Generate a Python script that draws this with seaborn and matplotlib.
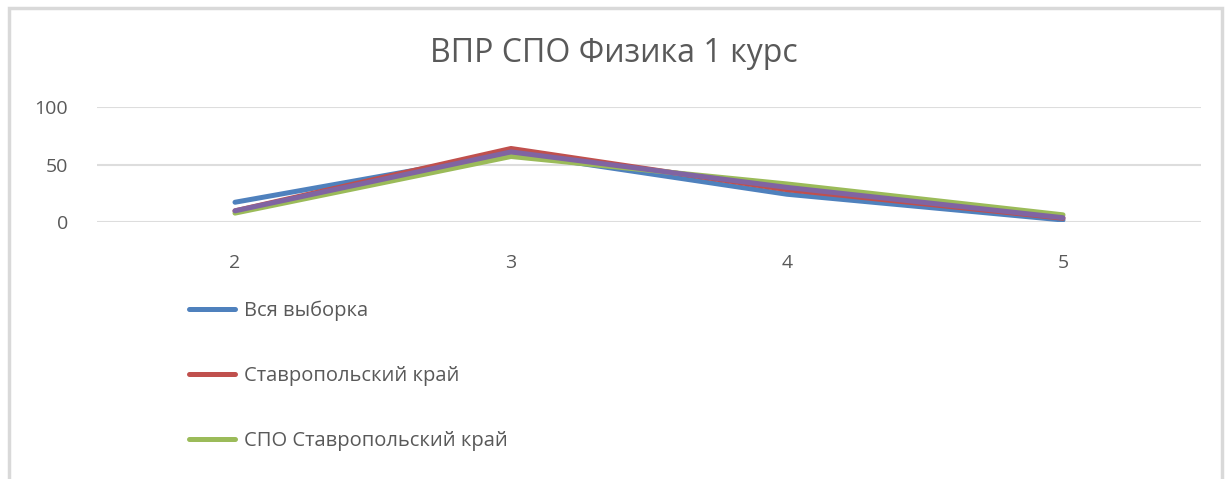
import pandas as pd
import matplotlib.pyplot as plt
import seaborn as sns
from matplotlib.patches import Rectangle
from matplotlib.lines import Line2D

# data
grades = ['2', '3', '4', '5']
all_sample = [17, 60, 24, 1.5]
stavropol = [9.5, 64, 28, 3]
spo_stavropol = [7.5, 57, 33, 6]
series4 = [9.5, 61, 30, 3.5]

series_names = ['Вся выборка', 'Ставропольский край', 'СПО Ставропольский край', 'Ряд 4']
colors = ['#4F81BD', '#C0504D', '#9BBB59', '#8064A2']

df = pd.DataFrame({
    'grade': grades * 4,
    'value': all_sample + stavropol + spo_stavropol + series4,
    'series': [n for n in series_names for _ in grades],
})

sns.set_style('white')
plt.rcParams['font.family'] = ['Open Sans', 'DejaVu Sans']

fig = plt.figure(figsize=(12.28, 4.79), dpi=100)
ax = fig.add_axes([97 / 1228, 1 - 221.7 / 479, 1104 / 1228, 114.4 / 479])

sns.lineplot(data=df, x='grade', y='value', hue='series', palette=colors,
             linewidth=3.6, ax=ax, legend=False, sort=False)
for ln in ax.lines:
    ln.set_solid_capstyle('round')

ax.set_xlim(-0.5, 3.5)
ax.set_ylim(0, 100)
ax.set_yticks([0, 50, 100])
ax.grid(True, axis='y', color='#DDDDDD', linewidth=1.5)
ax.set_axisbelow(True)
for s in ax.spines.values():
    s.set_visible(False)
ax.set_xlabel('')
ax.set_ylabel('')
ax.tick_params(axis='both', length=0, labelsize=14, colors='#595959')
ax.tick_params(axis='x', pad=23)
ax.tick_params(axis='y', pad=21)

fig.text(0.5, 1 - 54 / 479, 'ВПР СПО Физика 1 курс', ha='center', va='center',
         fontsize=23, color='#595959')

# legend (only first three series visible)
handles = [Line2D([0], [0], color=c, linewidth=3.6, solid_capstyle='round') for c in colors[:3]]
fig.legend(handles, series_names[:3], loc='upper left',
           bbox_to_anchor=(171 / 1228, 1 - 282 / 479), frameon=False,
           fontsize=14.5, labelcolor='#595959', handlelength=2.3, handletextpad=0.4,
           labelspacing=2.25)

# outer chart border
fig.patches.append(Rectangle((9 / 1228, -0.1), 1213 / 1228, 1.1 - 8 / 479,
                             transform=fig.transFigure, fill=False,
                             edgecolor='#D9D9D9', linewidth=2.5))

fig.savefig('out.png', dpi=100)
